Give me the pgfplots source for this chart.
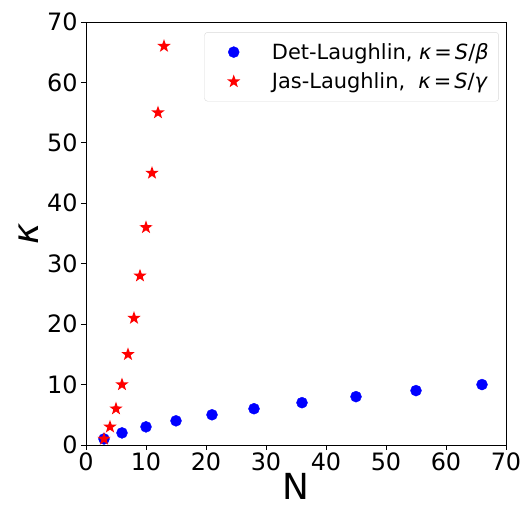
\documentclass[border=0pt]{standalone}
\usepackage{fontspec}
\setmainfont{DejaVu Sans}
\usepackage{pgfplots}
\pgfplotsset{compat=1.18}

\pgfdeclareplotmark{fstar}{%
  \pgfpathmoveto{\pgfpointpolar{90}{\pgfplotmarksize}}%
  \pgfpathlineto{\pgfpointpolar{126}{0.4\pgfplotmarksize}}%
  \pgfpathlineto{\pgfpointpolar{162}{\pgfplotmarksize}}%
  \pgfpathlineto{\pgfpointpolar{198}{0.4\pgfplotmarksize}}%
  \pgfpathlineto{\pgfpointpolar{234}{\pgfplotmarksize}}%
  \pgfpathlineto{\pgfpointpolar{270}{0.4\pgfplotmarksize}}%
  \pgfpathlineto{\pgfpointpolar{306}{\pgfplotmarksize}}%
  \pgfpathlineto{\pgfpointpolar{342}{0.4\pgfplotmarksize}}%
  \pgfpathlineto{\pgfpointpolar{18}{\pgfplotmarksize}}%
  \pgfpathlineto{\pgfpointpolar{54}{0.4\pgfplotmarksize}}%
  \pgfpathclose
  \pgfusepathqfill
}

\begin{document}
\begin{tikzpicture}
\begin{axis}[
  name=ax, scale only axis, width=420bp, height=423bp,
  xmin=0, xmax=70, ymin=0, ymax=70,
  xtick={0,10,...,70}, ytick={0,10,...,70},
  tick align=outside, xtick pos=bottom, ytick pos=left,
  major tick length=5bp,
  tick style={black, line width=0.8bp},
  axis line style={line width=0.8bp},
  /pgf/number format/assume math mode=true,
  ticklabel style={font=\fontsize{24}{28}\selectfont},
  xticklabel style={yshift=1bp},
  xlabel={N}, ylabel={\itshape κ},
  label style={font=\fontsize{36}{40}\selectfont},
  xlabel style={yshift=4bp},
  ylabel style={yshift=2bp},
  legend style={at={(0.983,0.976)}, anchor=north east, draw=black!15, rounded corners=3bp,
    font=\fontsize{21}{25}\selectfont, row sep=8bp, inner xsep=8bp, inner ysep=9bp},
  legend image code/.code={%
    \path (0bp,0bp) (57bp,0bp);
    \draw[#1] plot coordinates {(21bp,0bp)};},
  legend cell align=left,
  clip=false,
]
\addplot[only marks, mark=*, mark size=5.5bp, color=blue] coordinates {
  (3,1) (6,2) (10,3) (15,4) (21,5) (28,6) (36,7) (45,8) (55,9) (66,10)
};
\addlegendentry{Det-Laughlin, \textit{κ}\hspace{3bp}=\hspace{3bp}\textit{S}/\textit{β}}
\addplot[only marks, mark=fstar, mark size=7bp, color=red] coordinates {
  (3,1) (4,3) (5,6) (6,10) (7,15) (8,21) (9,28) (10,36) (11,45) (12,55) (13,66)
};
\addlegendentry{Jas-Laughlin,\ \ \textit{κ}\hspace{3bp}=\hspace{3bp}\textit{S}/\textit{γ}}
\end{axis}
\pgfresetboundingbox
\path ([shift={(-86bp,-65bp)}]ax.south west) rectangle ([shift={(20bp,22bp)}]ax.north east);
\end{tikzpicture}
\end{document}
